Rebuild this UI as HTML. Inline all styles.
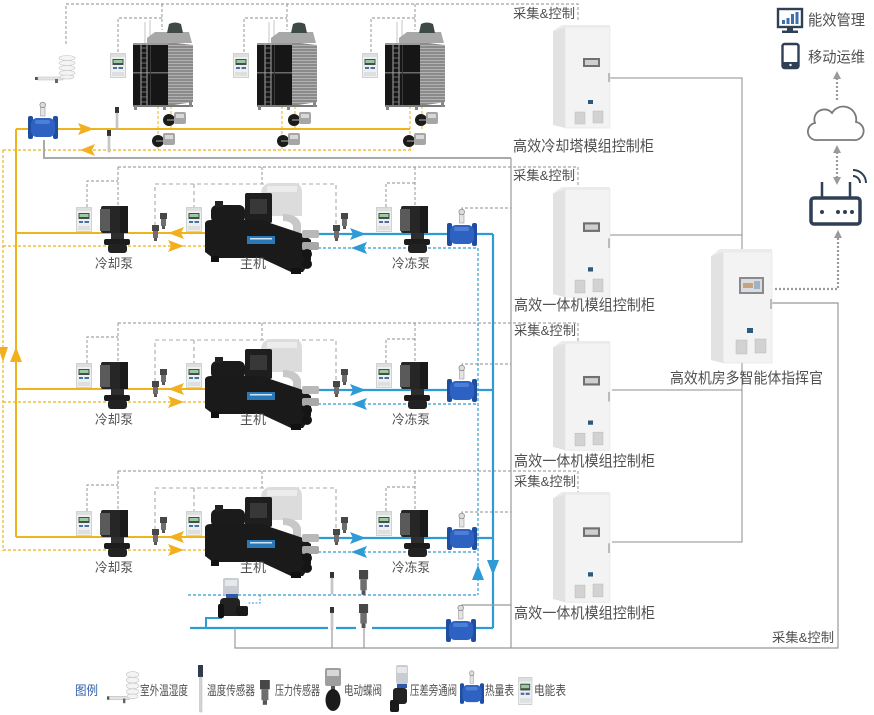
<!DOCTYPE html>
<html><head><meta charset="utf-8">
<style>
html,body{margin:0;padding:0;background:#fff;}
svg{display:block;}
text{font-family:"Liberation Sans","Noto Sans CJK SC",sans-serif;fill:#505050;}
</style></head><body>
<svg width="874" height="715" viewBox="0 0 874 715" xmlns="http://www.w3.org/2000/svg">
<defs>
 <pattern id="slat" width="4" height="3" patternUnits="userSpaceOnUse">
  <rect width="4" height="3" fill="#8a8a8a"/>
  <rect width="4" height="1" fill="#b2b2b2"/>
 </pattern>
 <g id="pm">
  <rect x="0.5" y="0.5" width="15" height="24" fill="#eef0ef" stroke="#c6cac9" stroke-width="0.8"/>
  <rect x="1" y="1" width="14" height="3" fill="#dcdfde"/>
  <rect x="2.5" y="6" width="11" height="6" fill="#42504a"/>
  <rect x="3.5" y="7" width="9" height="3" fill="#9cc8a5"/>
  <rect x="3" y="14" width="4" height="2" fill="#4a6fa5"/>
  <rect x="8.5" y="14" width="4.5" height="2" fill="#4a6fa5"/>
  <rect x="2" y="19" width="12" height="4" fill="#dde0df"/>
 </g>
 <g id="pump">
  <rect x="1" y="0" width="27" height="27" rx="2" fill="#262626"/>
  <rect x="0" y="3" width="10" height="22" fill="#5a5a5a"/>
  <rect x="20" y="0" width="8" height="27" fill="#1a1a1a"/>
  <rect x="11" y="27" width="13" height="8" fill="#2e2e2e"/>
  <rect x="4" y="33" width="26" height="6" rx="2" fill="#1c1c1c"/>
  <rect x="8" y="38" width="19" height="9" rx="3" fill="#222"/>
 </g>
 <g id="ps">
  <rect x="0" y="0" width="7" height="6" fill="#474747"/>
  <rect x="1" y="6" width="5" height="7" fill="#6e6e6e"/>
  <rect x="2" y="13" width="3" height="3" fill="#555"/>
 </g>
 <g id="ts">
  <rect x="0" y="0" width="4" height="6" fill="#333"/>
  <rect x="1" y="6" width="2" height="16" fill="#d2d2d2" stroke="#999" stroke-width="0.4"/>
 </g>
 <g id="bv">
  <circle cx="6" cy="8" r="6" fill="#1b1b1b"/>
  <rect x="4" y="7" width="9" height="2" fill="#666"/>
  <rect x="11" y="0" width="12" height="12" rx="2" fill="#a6a6a6"/>
  <rect x="13" y="2" width="8" height="4" fill="#d8d8d8"/>
 </g>
 <g id="hm">
  <rect x="12.5" y="-1" width="4.5" height="9" fill="#e4e4e4" stroke="#888" stroke-width="0.5"/>
  <circle cx="14.7" cy="-3" r="2.8" fill="#dcdcdc" stroke="#777" stroke-width="0.6"/>
  <rect x="0" y="8" width="5" height="23" rx="2" fill="#1f4e9f"/>
  <rect x="25" y="8" width="5" height="23" rx="2" fill="#1f4e9f"/>
  <rect x="3" y="10" width="24" height="19" rx="6" fill="#2e62c2"/>
  <rect x="7" y="12" width="15" height="4" rx="2" fill="#4d7fd8"/>
 </g>
 <g id="tower">
  <line x1="12" y1="-8" x2="12" y2="15" stroke="#c4c4c4" stroke-width="1"/>
  <line x1="17" y1="-10" x2="17" y2="15" stroke="#c4c4c4" stroke-width="1"/>
  <path d="M14 8 L22 2 L56 2 L59 13 L14 13 Z" fill="#a8a8a8"/>
  <path d="M36 -6 Q42 -9 48 -6 L50 3 L34 3 Z" fill="#3e4a44"/>
  <rect x="0" y="13" width="35" height="63" fill="#161616"/>
  <rect x="0" y="13" width="35" height="2" fill="#9a9a9a"/>
  <rect x="0" y="42" width="35" height="1.5" fill="#6a6a6a"/>
  <rect x="17" y="15" width="1" height="60" fill="#3a3a3a"/>
  <path d="M35 12 L60 15 L60 72 L35 76 Z" fill="url(#slat)"/>
  <line x1="8" y1="13" x2="8" y2="76" stroke="#a8a8a8" stroke-width="1"/>
  <line x1="14" y1="13" x2="14" y2="76" stroke="#a8a8a8" stroke-width="1"/>
  <path d="M8 18H14M8 23H14M8 28H14M8 33H14M8 38H14M8 47H14M8 52H14M8 57H14M8 62H14M8 67H14M8 72H14" stroke="#8a8a8a" stroke-width="0.8"/>
  <rect x="0" y="75" width="60" height="2" fill="#7a7a7a"/>
  <rect x="1" y="76" width="3" height="4" fill="#888"/>
  <rect x="30" y="76" width="3" height="4" fill="#888"/>
  <rect x="56" y="72" width="3" height="5" fill="#888"/>
 </g>
 <g id="ch">
  <path d="M56 14 Q56 4 66 3 L90 3 Q97 4 97 12 L97 36 L56 36 Z" fill="#dcdcdc"/>
  <rect x="62" y="6" width="30" height="6" fill="#ececec"/>
  <path d="M78 34 Q93 34 96 44 L96 56 L88 56 L88 46 Q86 41 78 41 Z" fill="#c8c8c8"/>
  <rect x="40" y="13" width="27" height="30" rx="2" fill="#1e1e1e"/>
  <rect x="45" y="19" width="17" height="15" fill="#383838"/>
  <rect x="6" y="25" width="34" height="18" rx="6" fill="#1b1b1b"/>
  <rect x="10" y="21" width="8" height="6" fill="#222"/>
  <path d="M0 44 Q0 40 6 40 L56 40 L98 54 L106 60 L106 80 L98 92 L86 92 L56 78 L8 78 L0 72 Z" fill="#1a1a1a"/>
  <rect x="42" y="56" width="28" height="8" fill="#2a78b8"/>
  <rect x="45" y="58" width="22" height="1.5" fill="#cfe4f5"/>
  <rect x="6" y="76" width="8" height="6" fill="#111"/>
  <rect x="86" y="88" width="10" height="6" fill="#111"/>
  <rect x="97" y="50" width="17" height="8" rx="2" fill="#b8b8b8"/>
  <rect x="97" y="62" width="17" height="8" rx="2" fill="#a8a8a8"/>
  <circle cx="102" cy="74" r="5" fill="#151515"/>
  <circle cx="102" cy="84" r="5" fill="#151515"/>
 </g>
 <g id="cab">
  <path d="M0 6 L12 2 L12 103 L0 100 Z" fill="#e2e2e2"/>
  <rect x="12" y="2" width="45" height="101" fill="#f3f3f3" stroke="#e2e2e2" stroke-width="0.6"/>
  <path d="M0 6 L9 0 L57 0 L57 2 L12 2 Z" fill="#ebebeb"/>
  <rect x="30" y="33" width="17" height="9" fill="#707070"/>
  <rect x="32" y="35" width="13" height="5" fill="#cfcfcf"/>
  <rect x="35" y="75" width="5" height="4" fill="#2c5a7a"/>
  <rect x="22" y="87" width="10" height="12" fill="#d2d2d2" stroke="#bbb" stroke-width="0.5"/>
  <rect x="40" y="86" width="10" height="12" fill="#d2d2d2" stroke="#bbb" stroke-width="0.5"/>
  <rect x="55" y="48" width="2" height="9" fill="#bbb"/>
 </g>
 <g id="od">
  <rect x="0" y="22" width="4" height="3" fill="#555"/>
  <rect x="3" y="22" width="25" height="3" fill="#e4e4e4" stroke="#bbb" stroke-width="0.5"/>
  <rect x="20" y="24" width="3" height="4" fill="#666"/>
  <rect x="27" y="2" width="10" height="20" fill="#efefef"/>
  <ellipse cx="32" cy="3" rx="8" ry="2.5" fill="#f4f4f4" stroke="#c4c4c4" stroke-width="0.6"/>
  <ellipse cx="32" cy="8" rx="8" ry="2.5" fill="#f4f4f4" stroke="#c4c4c4" stroke-width="0.6"/>
  <ellipse cx="32" cy="13" rx="8" ry="2.5" fill="#f4f4f4" stroke="#c4c4c4" stroke-width="0.6"/>
  <ellipse cx="32" cy="18" rx="8" ry="2.5" fill="#f4f4f4" stroke="#c4c4c4" stroke-width="0.6"/>
  <ellipse cx="32" cy="22" rx="7" ry="2" fill="#f4f4f4" stroke="#c4c4c4" stroke-width="0.6"/>
 </g>
 <g id="row">
  <line x1="16" y1="233" x2="205" y2="233" stroke="#efb31c" stroke-width="2"/>
  <line x1="3" y1="246" x2="205" y2="246" stroke="#efb31c" stroke-width="1.2" stroke-dasharray="3 2"/>
  <line x1="318" y1="234" x2="493" y2="234" stroke="#2e9bd6" stroke-width="2.2"/>
  <line x1="318" y1="248" x2="478" y2="248" stroke="#2e9bd6" stroke-width="1.2" stroke-dasharray="3 2"/>
  <polygon points="168,233 184,227 181,233 184,239" fill="#f2b020"/>
  <polygon points="184,246 168,240 171,246 168,252" fill="#f2b020"/>
  <polygon points="366,234 350,228 353,234 350,240" fill="#2e9bd6"/>
  <polygon points="351,248 367,242 364,248 367,254" fill="#2e9bd6"/>
  <g stroke="#8c8c8c" stroke-width="0.9" stroke-dasharray="3 2" fill="none">
   <path d="M118 167 H578 V190"/>
   <path d="M118 167 V207"/>
   <path d="M87 207 V181 H118"/>
   <path d="M262 167 V184"/>
   <path d="M415 167 V207"/>
   <path d="M386 207 V183 H415"/>
   <path d="M462 210 V208 H511"/>
  </g>
  <g stroke="#aaa" stroke-width="1.1" stroke-dasharray="4 3" fill="none">
   <path d="M155 226 V184 H336 V224"/>
   <path d="M194 184 V207"/>
  </g>
  <use href="#pm" x="76" y="207"/>
  <use href="#pump" x="100" y="206"/>
  <use href="#ps" x="152" y="225"/>
  <use href="#ps" x="160" y="213"/>
  <use href="#pm" x="186" y="207"/>
  <use href="#ch" x="205" y="180"/>
  <use href="#ps" x="333" y="225"/>
  <use href="#ps" x="341" y="213"/>
  <use href="#pm" x="376" y="207"/>
  <use href="#pump" x="400" y="206"/>
  <use href="#hm" x="447" y="215"/>
 </g>
</defs>

<rect width="874" height="715" fill="#fff"/>

<!-- ===== top cooling tower section ===== -->
<g stroke="#8c8c8c" stroke-width="0.9" stroke-dasharray="3 2" fill="none">
 <path d="M66 44 V4 H578 V20"/>
 <path d="M162 4 V30 M118 52 V18 H162"/>
 <path d="M287 4 V30 M244 52 V18 H287"/>
 <path d="M415 4 V30 M371 52 V18 H415"/>
</g>
<line x1="16" y1="129" x2="410" y2="129" stroke="#efb31c" stroke-width="2"/>
<line x1="3" y1="150" x2="412" y2="150" stroke="#efb31c" stroke-width="1.2" stroke-dasharray="3 2"/>
<line x1="16" y1="129" x2="16" y2="537" stroke="#efb31c" stroke-width="2"/>
<line x1="3" y1="150" x2="3" y2="551" stroke="#efb31c" stroke-width="1.2" stroke-dasharray="3 2"/>
<g stroke="#efb31c" stroke-width="1" stroke-dasharray="3 2">
 <path d="M158 106 V150 M171 106 V129"/>
 <path d="M282 106 V150 M295 106 V129"/>
 <path d="M410 106 V150 M422 106 V129"/>
</g>
<polygon points="94,129 78,123 81,129 78,135" fill="#f2b020"/>
<polygon points="80,150 95,144 92,150 95,156" fill="#f2b020"/>
<polygon points="16,347 10,362 22,362" fill="#f2b020"/>
<polygon points="3,362 -2,347 8,347" fill="#f2b020"/>
<path d="M44 140 V158 H511" stroke="#aaa" stroke-width="2" fill="none"/>

<use href="#od" x="35" y="55"/>
<use href="#pm" x="110" y="53"/>
<use href="#pm" x="233" y="53"/>
<use href="#pm" x="362" y="53"/>
<use href="#tower" x="133" y="30"/>
<use href="#tower" x="257" y="30"/>
<use href="#tower" x="385" y="30"/>
<use href="#bv" x="163" y="112"/>
<use href="#bv" x="152" y="133"/>
<use href="#bv" x="288" y="112"/>
<use href="#bv" x="277" y="133"/>
<use href="#bv" x="415" y="112"/>
<use href="#bv" x="403" y="133"/>
<use href="#hm" x="28" y="108"/>
<use href="#ts" x="115" y="107"/>
<use href="#ts" x="107" y="130"/>

<!-- ===== chiller rows ===== -->
<use href="#row"/>
<use href="#row" y="156"/>
<use href="#row" y="304"/>

<line x1="493" y1="234" x2="493" y2="628" stroke="#2e9bd6" stroke-width="2.2"/>
<line x1="478" y1="248" x2="478" y2="595" stroke="#2e9bd6" stroke-width="1.2" stroke-dasharray="3 2"/>
<polygon points="493,575 487,560 499,560" fill="#2e9bd6"/>
<polygon points="478,565 472,580 484,580" fill="#2e9bd6"/>

<line x1="188" y1="595" x2="478" y2="595" stroke="#2e9bd6" stroke-width="1.2" stroke-dasharray="3 2"/>
<path d="M260 595 V603 H247" stroke="#2e9bd6" stroke-width="1" stroke-dasharray="2 1.5" fill="none"/>
<path d="M190 628 H328 M336 628 H356 M372 628 H493" stroke="#2e9bd6" stroke-width="2.2" fill="none"/>
<path d="M206 628 V618 H222" stroke="#2e9bd6" stroke-width="2" fill="none"/>

<g stroke="#999" stroke-width="1.2" fill="none">
 <path d="M511 158 V648"/>
 <path d="M235 628 V648 H838 V303 H772"/>
 <path d="M332 628 V648 M364 628 V648"/>
 <path d="M462 608 V605 H511"/>
</g>
<g stroke="#8c8c8c" stroke-width="1" fill="none">
 <path d="M610 78 H742 V250"/>
 <path d="M610 235 H742"/>
 <path d="M612 390 H742 M612 542 H742 V363"/>
</g>

<g>
 <rect x="223" y="578" width="16" height="17" rx="2" fill="#c9ccd2"/>
 <rect x="225" y="580" width="12" height="6" fill="#e6e8ec"/>
 <rect x="226" y="594" width="12" height="5" fill="#2d5aa8"/>
 <rect x="220" y="598" width="20" height="18" rx="4" fill="#222"/>
 <rect x="236" y="606" width="12" height="10" rx="2" fill="#1a1a1a"/>
 <rect x="218" y="604" width="6" height="14" rx="2" fill="#111"/>
</g>
<use href="#ts" x="330" y="572"/>
<use href="#ts" x="330" y="607"/>
<g transform="translate(359,570) scale(1.3,1.55)"><use href="#ps"/></g>
<g transform="translate(359,604) scale(1.3,1.5)"><use href="#ps"/></g>
<use href="#hm" x="446" y="611"/>

<use href="#cab" x="553" y="25"/>
<g transform="translate(553,187) scale(1,1.07)"><use href="#cab"/></g>
<g transform="translate(553,341) scale(1,1.06)"><use href="#cab"/></g>
<g transform="translate(553,492) scale(1,1.07)"><use href="#cab"/></g>

<g>
 <path d="M711 256 L723 252 L723 363 L711 360 Z" fill="#e2e2e2"/>
 <rect x="723" y="252" width="49" height="111" fill="#f3f3f3" stroke="#e2e2e2" stroke-width="0.6"/>
 <path d="M711 256 L720 249 L772 249 L772 252 L723 252 Z" fill="#ebebeb"/>
 <rect x="739" y="277" width="25" height="17" fill="#8a8a8a"/>
 <rect x="741" y="279" width="21" height="13" fill="#d9dde2"/>
 <rect x="743" y="283" width="10" height="5" fill="#c9a37a"/>
 <rect x="754" y="281" width="6" height="8" fill="#9fb3c8"/>
 <rect x="747" y="328" width="6" height="5" fill="#2c5a7a"/>
 <rect x="736" y="340" width="11" height="14" fill="#d2d2d2" stroke="#bbb" stroke-width="0.5"/>
 <rect x="755" y="339" width="11" height="14" fill="#d2d2d2" stroke="#bbb" stroke-width="0.5"/>
 <rect x="770" y="299" width="2" height="10" fill="#bbb"/>
</g>

<g stroke="#9a9a9a" stroke-width="2.2" stroke-dasharray="2 2" fill="none">
 <path d="M775 289 H838 V238"/>
 <path d="M837 152 V178"/>
 <path d="M837 78 V100"/>
</g>
<polygon points="838,230 834,238 842,238" fill="#9a9a9a"/>
<polygon points="837,145 833,153 841,153" fill="#9a9a9a"/>
<polygon points="837,185 833,177 841,177" fill="#9a9a9a"/>
<polygon points="837,71 833,79 841,79" fill="#9a9a9a"/>

<path d="M818 140 H853 A9 9 0 0 0 856 122 A13 13 0 0 0 832 113 A10 10 0 0 0 815 123 A8.5 8.5 0 0 0 818 140 Z" fill="#fff" stroke="#7a7a7a" stroke-width="1.8"/>
<rect x="811" y="198" width="49" height="26" rx="3" fill="#fff" stroke="#2f3f56" stroke-width="3.5"/>
<circle cx="822" cy="212" r="2" fill="#2f3f56"/>
<circle cx="838" cy="212" r="2" fill="#2f3f56"/>
<circle cx="845" cy="212" r="2" fill="#2f3f56"/>
<circle cx="852" cy="212" r="2" fill="#2f3f56"/>
<line x1="822" y1="182" x2="822" y2="197" stroke="#2f3f56" stroke-width="2.5"/>
<line x1="850" y1="182" x2="850" y2="197" stroke="#2f3f56" stroke-width="2.5"/>
<path d="M853 176 A7 7 0 0 1 860 183" stroke="#2f3f56" stroke-width="2" fill="none"/>
<path d="M853 170 A13 13 0 0 1 866 183" stroke="#2f3f56" stroke-width="2" fill="none"/>
<rect x="778" y="9" width="24" height="18" fill="#fff" stroke="#2f3f56" stroke-width="2.4"/>
<rect x="782" y="20" width="3" height="4" fill="#3a6fb0"/>
<rect x="786.5" y="18" width="3" height="6" fill="#3a6fb0"/>
<rect x="791" y="14" width="3" height="10" fill="#3a6fb0"/>
<rect x="795.5" y="12" width="3" height="12" fill="#3a6fb0"/>
<rect x="787" y="28" width="6" height="3" fill="#2f3f56"/>
<rect x="782" y="30.5" width="16" height="2.5" fill="#2f3f56"/>
<rect x="782.5" y="44" width="16" height="24" rx="2" fill="#fff" stroke="#2f3f56" stroke-width="2.4"/>
<rect x="782.5" y="62" width="16" height="6" fill="#2f3f56"/>
<circle cx="790.5" cy="65" r="1.2" fill="#fff"/>

<g font-size="13">
 <text x="513" y="18" textLength="62" lengthAdjust="spacingAndGlyphs">采集&amp;控制</text>
 <text x="513" y="180" textLength="62" lengthAdjust="spacingAndGlyphs">采集&amp;控制</text>
 <text x="514" y="335" textLength="62" lengthAdjust="spacingAndGlyphs">采集&amp;控制</text>
 <text x="514" y="486" textLength="62" lengthAdjust="spacingAndGlyphs">采集&amp;控制</text>
 <text x="772" y="642" textLength="62" lengthAdjust="spacingAndGlyphs">采集&amp;控制</text>
</g>
<g font-size="15">
 <text x="513" y="151" textLength="141" lengthAdjust="spacingAndGlyphs">高效冷却塔模组控制柜</text>
 <text x="514" y="310" textLength="141" lengthAdjust="spacingAndGlyphs">高效一体机模组控制柜</text>
 <text x="514" y="466" textLength="141" lengthAdjust="spacingAndGlyphs">高效一体机模组控制柜</text>
 <text x="514" y="618" textLength="141" lengthAdjust="spacingAndGlyphs">高效一体机模组控制柜</text>
 <text x="670" y="383" textLength="153" lengthAdjust="spacingAndGlyphs">高效机房多智能体指挥官</text>
 <text x="808" y="25" textLength="57" lengthAdjust="spacingAndGlyphs">能效管理</text>
 <text x="808" y="62" textLength="57" lengthAdjust="spacingAndGlyphs">移动运维</text>
</g>
<g font-size="13">
 <text x="95" y="268" textLength="38" lengthAdjust="spacingAndGlyphs">冷却泵</text>
 <text x="240" y="268" textLength="26" lengthAdjust="spacingAndGlyphs">主机</text>
 <text x="392" y="268" textLength="38" lengthAdjust="spacingAndGlyphs">冷冻泵</text>
 <text x="95" y="424" textLength="38" lengthAdjust="spacingAndGlyphs">冷却泵</text>
 <text x="240" y="424" textLength="26" lengthAdjust="spacingAndGlyphs">主机</text>
 <text x="392" y="424" textLength="38" lengthAdjust="spacingAndGlyphs">冷冻泵</text>
 <text x="95" y="572" textLength="38" lengthAdjust="spacingAndGlyphs">冷却泵</text>
 <text x="240" y="572" textLength="26" lengthAdjust="spacingAndGlyphs">主机</text>
 <text x="392" y="572" textLength="38" lengthAdjust="spacingAndGlyphs">冷冻泵</text>
</g>

<text x="75" y="695" font-size="13" textLength="23" lengthAdjust="spacingAndGlyphs" style="fill:#2b5ea8">图例</text>
<g transform="translate(107,671) scale(0.8,1.15)"><use href="#od"/></g>
<rect x="198" y="665" width="5" height="12" fill="#2f3a4a"/>
<rect x="199.5" y="677" width="2.5" height="35" fill="#d4d4d4" stroke="#aaa" stroke-width="0.4"/>
<g transform="translate(260,680) scale(1.4,1.55)"><use href="#ps"/></g>
<g>
 <rect x="325" y="668" width="16" height="18" rx="2" fill="#9e9e9e"/>
 <rect x="327" y="670" width="12" height="6" fill="#d8d8d8"/>
 <rect x="331" y="686" width="4" height="4" fill="#555"/>
 <ellipse cx="333" cy="700" rx="7.5" ry="11" fill="#1b1b1b"/>
</g>
<g>
 <rect x="396" y="665" width="12" height="19" rx="2" fill="#c9ccd2"/>
 <rect x="397" y="667" width="10" height="6" fill="#e6e8ec"/>
 <rect x="397" y="684" width="10" height="4" fill="#2d5aa8"/>
 <rect x="393" y="688" width="14" height="16" rx="3" fill="#222"/>
 <rect x="390" y="700" width="9" height="12" rx="2" fill="#1a1a1a"/>
</g>
<g transform="translate(460,676) scale(0.8,0.9)"><use href="#hm"/></g>
<g transform="translate(518,677) scale(0.9,1.12)"><use href="#pm"/></g>
<g font-size="13">
 <text x="140" y="695" textLength="48" lengthAdjust="spacingAndGlyphs">室外温湿度</text>
 <text x="207" y="695" textLength="48" lengthAdjust="spacingAndGlyphs">温度传感器</text>
 <text x="275" y="695" textLength="45" lengthAdjust="spacingAndGlyphs">压力传感器</text>
 <text x="344" y="695" textLength="38" lengthAdjust="spacingAndGlyphs">电动蝶阀</text>
 <text x="410" y="695" textLength="47" lengthAdjust="spacingAndGlyphs">压差旁通阀</text>
 <text x="485" y="695" textLength="29" lengthAdjust="spacingAndGlyphs">热量表</text>
 <text x="534" y="695" textLength="32" lengthAdjust="spacingAndGlyphs">电能表</text>
</g>
</svg>
</body></html>
